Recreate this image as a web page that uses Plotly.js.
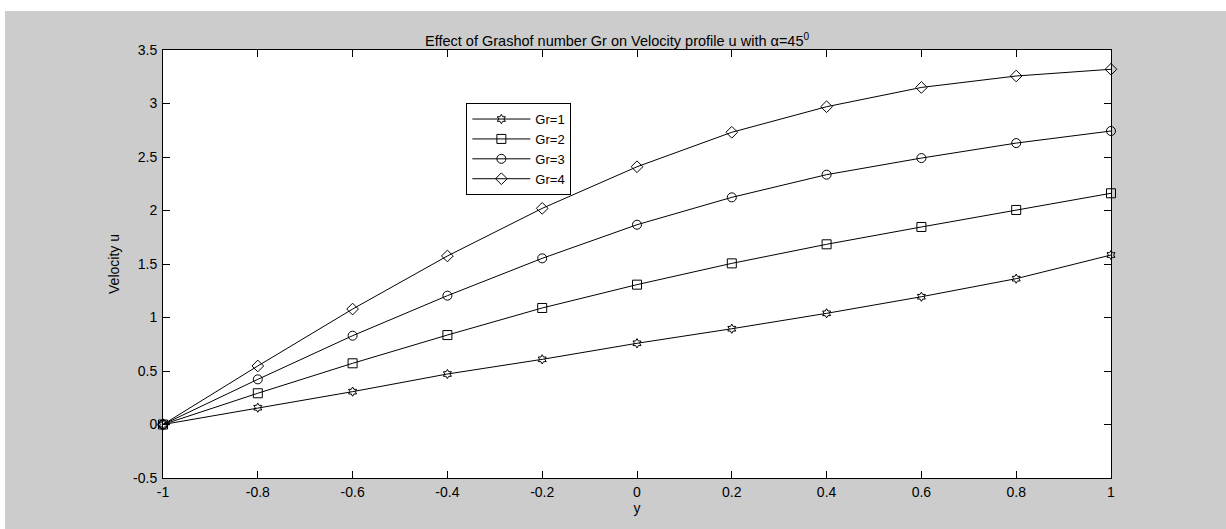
<!DOCTYPE html>
<html>
<head>
<meta charset="utf-8">
<script src="https://cdn.plot.ly/plotly-3.0.1.min.js"></script>
<style>
html,body{margin:0;padding:0;background:#ffffff;width:1226px;height:529px;overflow:hidden;}
#chart{position:absolute;left:5px;top:11px;width:1221px;height:518px;}
</style>
</head>
<body>
<div id="chart"></div>
<script>
const yPos = [-1, -0.8, -0.6, -0.4, -0.2, 0, 0.2, 0.4, 0.6, 0.8, 1];
const gr1 = [0, 0.157, 0.307, 0.472, 0.609, 0.759, 0.895, 1.039, 1.194, 1.363, 1.584];
const gr2 = [0, 0.292, 0.572, 0.836, 1.089, 1.307, 1.506, 1.684, 1.846, 2.005, 2.161];
const gr3 = [0, 0.422, 0.83, 1.204, 1.553, 1.867, 2.123, 2.335, 2.49, 2.63, 2.743];
const gr4 = [0, 0.547, 1.079, 1.575, 2.02, 2.409, 2.731, 2.97, 3.15, 3.257, 3.32];
const seriesNames = ['Gr=1', 'Gr=2', 'Gr=3', 'Gr=4'];
const seriesValues = [gr1, gr2, gr3, gr4];
const symbols = ['hexagram-open', 'square-open', 'circle-open', 'diamond-open'];
const sizes = [7, 9, 9, 9];
const xTickVals = [-1, -0.8, -0.6, -0.4, -0.2, 0, 0.2, 0.4, 0.6, 0.8, 1];
const xTickText = ['-1', '-0.8', '-0.6', '-0.4', '-0.2', '0', '0.2', '0.4', '0.6', '0.8', '1'];
const yTickVals = [-0.5, 0, 0.5, 1, 1.5, 2, 2.5, 3, 3.5];
const yTickText = ['-0.5', '0', '0.5', '1', '1.5', '2', '2.5', '3', '3.5'];

const traces = seriesNames.map((n, i) => ({
  type: 'scatter', mode: 'lines+markers', name: n,
  x: yPos, y: seriesValues[i],
  line: {color: '#000000', width: 1},
  marker: {symbol: symbols[i], size: sizes[i], color: '#000000', line: {color: '#000000', width: 1}},
  cliponaxis: false
}));

const fontFam = '"Liberation Sans", Arial, sans-serif';
const axisCommon = {
  showline: true, linecolor: '#000000', linewidth: 1, mirror: 'ticks',
  ticks: 'inside', ticklen: 7, tickwidth: 1, tickcolor: '#000000',
  showgrid: false, zeroline: false,
  tickfont: {family: fontFam, size: 14, color: '#000000'}
};

const layout = {
  width: 1221, height: 518,
  paper_bgcolor: '#cccccc', plot_bgcolor: '#ffffff',
  margin: {l: 158, r: 115, t: 39, b: 51, pad: 0},
  font: {family: fontFam, size: 14, color: '#000000'},
  title: {
    text: 'Effect of Grashof number Gr on Velocity profile u with α=45<sup>0</sup>',
    font: {family: fontFam, size: 14.5, color: '#000000'},
    xref: 'paper', x: 0.479, xanchor: 'center',
    yref: 'paper', y: 1, yanchor: 'bottom', pad: {b: 4}
  },
  xaxis: Object.assign({}, axisCommon, {
    range: [-1, 1], tickvals: xTickVals, ticktext: xTickText,
    ticklabelstandoff: 1,
    title: {text: 'y', font: {family: fontFam, size: 14, color: '#000000'}, standoff: 4}
  }),
  yaxis: Object.assign({}, axisCommon, {
    range: [-0.5, 3.5], tickvals: yTickVals, ticktext: yTickText,
    ticklabelstandoff: 2,
    title: {text: 'Velocity u', font: {family: fontFam, size: 14, color: '#000000'}, standoff: 10}
  }),
  showlegend: true,
  legend: {
    x: 0.32, y: 0.876, xanchor: 'left', yanchor: 'top',
    bgcolor: '#ffffff', bordercolor: '#000000', borderwidth: 1,
    font: {family: fontFam, size: 13, color: '#000000'},
    itemwidth: 58, tracegroupgap: 0
  }
};

Plotly.newPlot('chart', traces, layout, {displayModeBar: false, staticPlot: true});
</script>
</body>
</html>
